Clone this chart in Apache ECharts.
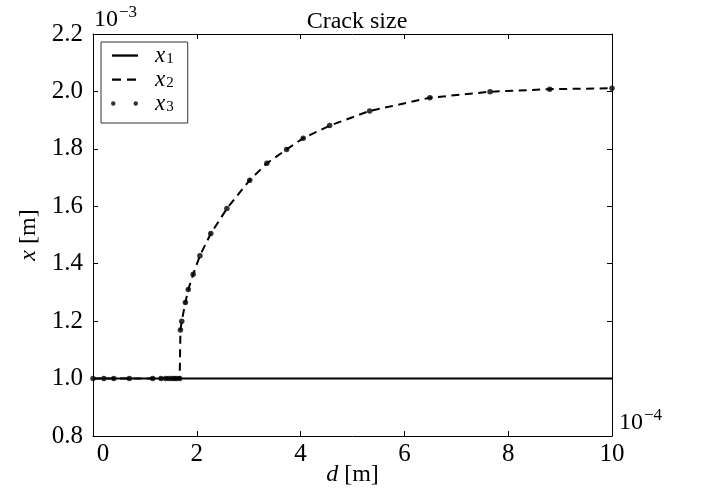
<!DOCTYPE html>
<html><head><meta charset="utf-8">
<script src="https://cdn.jsdelivr.net/npm/echarts@6/dist/echarts.min.js"></script>
<style>html,body{margin:0;padding:0;background:#fff}#c{width:703px;height:497px}</style>
</head><body><div id="c"></div>
<script>
// d in units of 1e-4 m, x in units of 1e-3 m
const dValues = [0, 0.21, 0.40, 0.70, 1.15, 1.31, 1.40, 1.46, 1.52, 1.57, 1.61, 1.67, 1.685, 1.71, 1.78, 1.835, 1.93, 2.06, 2.27, 2.58, 3.02, 3.35, 3.73, 4.05, 4.56, 5.33, 6.49, 7.65, 8.80, 10.0];
const x1Values = [1,1,1,1,1,1,1,1,1,1,1,1,1,1,1,1,1,1,1,1,1,1,1,1,1,1,1,1,1,1];
const x2Values = [1,1,1,1,1,1,1,1,1,1,1,1, 1.169,1.200,1.265,1.310,1.363,1.428,1.505,1.592,1.691,1.750,1.798,1.837,1.881,1.932,1.978,1.999,2.008,2.011];
const x3Values = [1,1,1,1,1,1,1,1,1,1,1,1, 1.169,1.200,1.265,1.310,1.363,1.428,1.505,1.592,1.691,1.750,1.798,1.837,1.881,1.932,1.978,1.999,2.008,2.011];
const seriesNames = ['x1', 'x2', 'x3'];
const titleText = 'Crack size';
const xTickValues = [0, 2, 4, 6, 8, 10];
const yTickValues = [0.8, 1.0, 1.2, 1.4, 1.6, 1.8, 2.0, 2.2];

const FONT = '"Liberation Serif", "DejaVu Serif", serif';
const pair = (xs, ys) => xs.map((x, i) => [x, ys[i]]);

const chart = echarts.init(document.getElementById('c'), null, {renderer: 'canvas'});
const tickStyle = {show: true, inside: true, length: 5, lineStyle: {color: '#000', width: 1}};
const axisLine = {show: true, onZero: false, lineStyle: {color: '#000', width: 1}};

chart.setOption({
  animation: false,
  backgroundColor: '#fff',
  title: {
    text: titleText, left: 352, textAlign: 'center', top: 5,
    textStyle: {fontFamily: FONT, fontSize: 24, fontWeight: 'normal', color: '#000'}
  },
  grid: {left: 93, right: 91, top: 34, bottom: 61, containLabel: false, outerBoundsMode: 'none'},
  xAxis: [{
    type: 'value', min: xTickValues[0], max: xTickValues[xTickValues.length - 1], interval: 2,
    position: 'bottom', axisLine, axisTick: tickStyle, splitLine: {show: false},
    axisLabel: {
      margin: 6, color: '#000', fontFamily: FONT, fontSize: 25,
      formatter: v => v === 0 ? '{z|0}' : String(v),
      rich: {z: {fontFamily: FONT, fontSize: 25, color: '#000', padding: [0, 0, 0, 20]}}
    },
    name: '{i|d} [m]', nameLocation: 'middle', nameGap: 27, nameMoveOverlap: false,
    nameTextStyle: {fontFamily: FONT, fontSize: 24, color: '#000',
      rich: {i: {fontFamily: FONT, fontSize: 24, fontStyle: 'italic', color: '#000'}}}
  }, {
    type: 'value', min: xTickValues[0], max: xTickValues[xTickValues.length - 1], interval: 2,
    position: 'top', axisLine, axisTick: tickStyle, axisLabel: {show: false}, splitLine: {show: false}
  }],
  yAxis: [{
    type: 'value', min: yTickValues[0], max: yTickValues[yTickValues.length - 1], interval: 0.2,
    position: 'left', axisLine, axisTick: tickStyle, splitLine: {show: false},
    axisLabel: {margin: 10, color: '#000', fontFamily: FONT, fontSize: 25, formatter: v => v.toFixed(1)},
    name: '{i|x} [m]', nameLocation: 'middle', nameGap: 52, nameRotate: 90,
    nameTextStyle: {fontFamily: FONT, fontSize: 24, color: '#000',
      rich: {i: {fontFamily: FONT, fontSize: 24, fontStyle: 'italic', color: '#000'}}}
  }, {
    type: 'value', min: yTickValues[0], max: yTickValues[yTickValues.length - 1], interval: 0.2,
    position: 'right', axisLine, axisTick: tickStyle, axisLabel: {show: false}, splitLine: {show: false}
  }],
  legend: {
    orient: 'vertical', left: 101, top: 42,
    padding: [2, 14, 8, 10],
    itemWidth: 27, itemHeight: 14, itemGap: 1,
    backgroundColor: '#fff', borderColor: '#333', borderWidth: 1, borderRadius: 0,
    data: [
      {name: seriesNames[0], icon: 'path://M0 0M27 14M1 5.9h26v2.3H1z'},
      {name: seriesNames[1], icon: 'path://M0 0M27 14M1 5.9h9v2.3H1zM16 5.9h9v2.3h-9z'},
      {name: seriesNames[2], icon: 'path://M0 0M27 14M-0.3 7a2.3 2.3 0 1 0 4.6 0a2.3 2.3 0 1 0 -4.6 0M22.7 7a2.3 2.3 0 1 0 4.6 0a2.3 2.3 0 1 0 -4.6 0'}
    ],
    formatter: n => '{i|x}{s|' + n.slice(1) + '}',
    textStyle: {
      fontFamily: FONT, color: '#000',
      rich: {
        i: {fontFamily: FONT, fontSize: 23, fontStyle: 'italic', color: '#000', padding: [0, 0, 0, 12], lineHeight: 22},
        s: {fontFamily: FONT, fontSize: 15, color: '#000', padding: [8, 0, 0, 1], lineHeight: 22}
      }
    }
  },
  graphic: [
    {type: 'text', left: 94, top: 4, style: {
      text: '{b|10}{e|\u22123}', rich: {
        b: {fontFamily: FONT, fontSize: 24, fill: '#000', padding: [8, 0, 0, 0]},
        e: {fontFamily: FONT, fontSize: 17, fill: '#000', padding: [0, 0, 6, 1]}
      }}},
    {type: 'text', left: 619, top: 407, style: {
      text: '{b|10}{e|\u22124}', rich: {
        b: {fontFamily: FONT, fontSize: 24, fill: '#000', padding: [8, 0, 0, 0]},
        e: {fontFamily: FONT, fontSize: 17, fill: '#000', padding: [0, 0, 6, 1]}
      }}}
  ],
  series: [
    {name: seriesNames[0], type: 'line', data: pair(dValues, x1Values), symbol: 'none',
     lineStyle: {color: '#000', width: 2, type: 'solid'}, itemStyle: {color: '#000'}, z: 2},
    {name: seriesNames[1], type: 'line', data: pair(dValues, x2Values), symbol: 'none',
     lineStyle: {color: '#000', width: 2, type: [8, 5.5]}, itemStyle: {color: '#000'}, z: 3},
    {name: seriesNames[2], type: 'scatter', data: pair(dValues, x3Values), symbol: 'circle', symbolSize: 5.5,
     itemStyle: {color: '#000'}, z: 4}
  ]
});
</script>
</body></html>
